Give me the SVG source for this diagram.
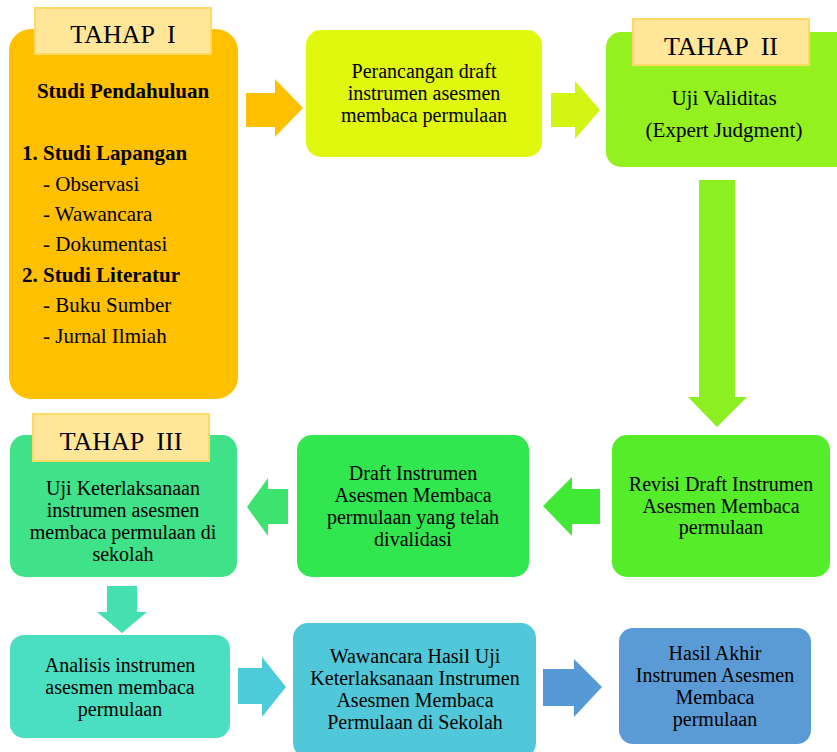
<svg xmlns="http://www.w3.org/2000/svg" width="837" height="752" viewBox="0 0 837 752">
<style>
text{font-family:"Liberation Serif","Times New Roman",serif;fill:#000;text-anchor:middle;font-size:20px}
.lbl{fill:#FFE699;stroke:#FFD966;stroke-width:2}
.tah{font-size:26px}
.big{font-size:21px}
.b{font-weight:bold}
.l{text-anchor:start}
</style>
<rect width="837" height="752" fill="#fff"/>
<g id="connectors">
<polygon points="246,93 275,93 275,79 303,108 275,137 275,127 246,127" fill="#FFC000"/>
<polygon points="551,93 575,93 575,81 600,110 575,139 575,127 551,127" fill="#D2F514"/>
<polygon points="699,180 735,180 735,397 747,397 717,427 688,397 699,397" fill="#8BEF21"/>
<polygon points="600,489 572,489 572,477 543,506 572,536 572,524 600,524" fill="#3FE936"/>
<polygon points="288,489 268,489 268,478 247,507 268,536 268,524 288,524" fill="#3CE371"/>
<polygon points="107,586 137,586 137,612 147,612 122,633 97,612 107,612" fill="#45E0B0"/>
<polygon points="238,668 262,668 262,657 286,687 262,717 262,704 238,704" fill="#4ECBD8"/>
<polygon points="543,669 574,669 574,659 602,687 574,717 574,706 543,706" fill="#5599D6"/>
</g>
<g id="tahap1">
<rect x="9" y="29" width="229" height="370" rx="22" fill="#FFC000"/>
<rect class="lbl" x="35" y="8" width="176" height="46"/>
<text class="tah" x="123" y="43" xml:space="preserve">TAHAP  I</text>
<text class="b big" x="123" y="98">Studi Pendahuluan</text>
<text class="b l big" x="22" y="160">1. Studi Lapangan</text>
<text class="l big" x="43" y="191">- Observasi</text>
<text class="l big" x="43" y="221">- Wawancara</text>
<text class="l big" x="43" y="251">- Dokumentasi</text>
<text class="b l big" x="22" y="282">2. Studi Literatur</text>
<text class="l big" x="43" y="312">- Buku Sumber</text>
<text class="l big" x="43" y="343">- Jurnal Ilmiah</text>
</g>
<g id="perancangan">
<rect x="306" y="30" width="236" height="127" rx="15" fill="#E0F70E"/>
<text x="424" y="78">Perancangan draft</text>
<text x="424" y="100">instrumen asesmen</text>
<text x="424" y="122">membaca permulaan</text>
</g>
<g id="tahap2">
<rect x="606" y="32" width="250" height="135" rx="15" fill="#94F01E"/>
<rect class="lbl" x="633" y="19" width="176" height="46"/>
<text class="tah" x="721" y="55" xml:space="preserve">TAHAP  II</text>
<text class="big" x="724" y="105">Uji Validitas</text>
<text class="big" x="724" y="137">(Expert Judgment)</text>
</g>
<g id="revisi">
<rect x="612" y="435" width="218" height="142" rx="15" fill="#55EC2A"/>
<text x="721" y="491">Revisi Draft Instrumen</text>
<text x="721" y="513">Asesmen Membaca</text>
<text x="721" y="534">permulaan</text>
</g>
<g id="draft">
<rect x="297" y="435" width="232" height="142" rx="15" fill="#31E64F"/>
<text x="413" y="480">Draft Instrumen</text>
<text x="413" y="502">Asesmen Membaca</text>
<text x="413" y="524">permulaan yang telah</text>
<text x="413" y="546">divalidasi</text>
</g>
<g id="tahap3">
<rect x="10" y="435" width="227" height="142" rx="15" fill="#3FE189"/>
<rect class="lbl" x="33" y="414" width="176" height="47"/>
<text class="tah" x="121" y="450" xml:space="preserve">TAHAP  III</text>
<text x="123" y="495">Uji Keterlaksanaan</text>
<text x="123" y="517">instrumen asesmen</text>
<text x="123" y="539">membaca permulaan di</text>
<text x="123" y="561">sekolah</text>
</g>
<g id="analisis">
<rect x="10" y="635" width="220" height="103" rx="14" fill="#49DFC0"/>
<text x="120" y="672">Analisis instrumen</text>
<text x="120" y="694">asesmen membaca</text>
<text x="120" y="716">permulaan</text>
</g>
<g id="wawancara">
<rect x="293" y="623" width="243" height="135" rx="15" fill="#50C8D9"/>
<text x="415" y="663">Wawancara Hasil Uji</text>
<text x="415" y="685">Keterlaksanaan Instrumen</text>
<text x="415" y="707">Asesmen Membaca</text>
<text x="415" y="729">Permulaan di Sekolah</text>
</g>
<g id="hasil">
<rect x="619" y="628" width="192" height="116" rx="14" fill="#5B9BD5"/>
<text x="715" y="660">Hasil Akhir</text>
<text x="715" y="682">Instrumen Asesmen</text>
<text x="715" y="704">Membaca</text>
<text x="715" y="726">permulaan</text>
</g>
</svg>
